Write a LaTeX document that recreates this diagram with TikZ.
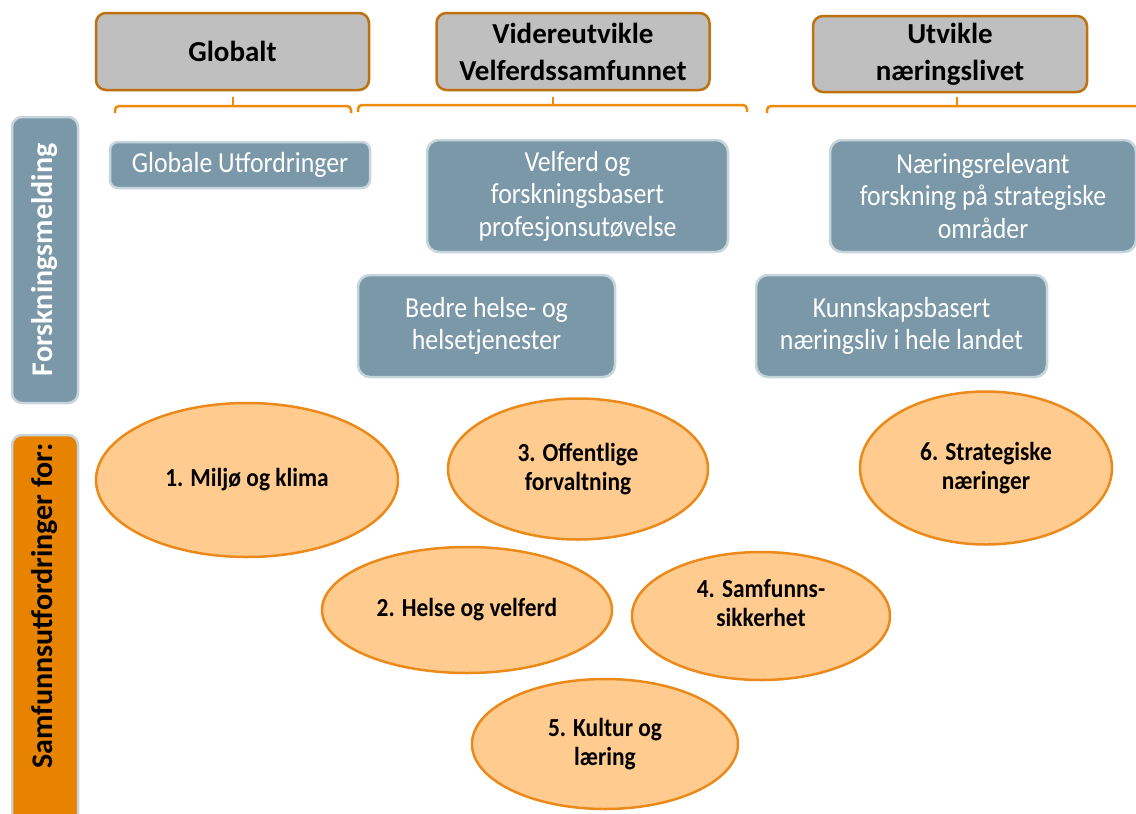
\documentclass[tikz,border=0pt]{standalone}
\usepackage{fontspec}
\setmainfont{Carlito}
\newfontfamily\bluefont[FakeStretch=0.89]{Carlito}
\newfontfamily\ellfont[FakeStretch=0.9]{Carlito}
\usetikzlibrary{shapes.geometric}
\definecolor{hdrfill}{HTML}{BFBFBF}
\definecolor{hdrline}{HTML}{C0710F}
\definecolor{brk}{HTML}{F08A0A}
\definecolor{bluefill}{HTML}{7B98A9}
\definecolor{blueline}{HTML}{C6D4DC}
\definecolor{orfill}{HTML}{E88300}
\definecolor{ellfill}{HTML}{FFCB8E}
\definecolor{ellline}{HTML}{EB8A1A}
\tikzset{
  hdr/.style={draw=hdrline, fill=hdrfill, line width=2.5pt, rounded corners=10pt, align=center,
    font=\fontsize{29}{37}\selectfont\bfseries, inner sep=0pt},
  bbox/.style={draw=blueline, fill=bluefill, line width=2.5pt, rounded corners=12pt, text=white,
    align=center, font=\bluefont\fontsize{29}{32.5}\selectfont, inner sep=0pt},
  ell/.style={ellipse, draw=ellline, fill=ellfill, line width=2.5pt, align=center,
    font=\ellfont\fontsize{26}{29}\selectfont\bfseries, inner sep=0pt},
  elltext/.style={align=center, font=\ellfont\fontsize{26}{29}\selectfont\bfseries, inner sep=0pt},
  brack/.style={draw=brk, line width=2.5pt, rounded corners=4pt},
  sidebox/.style={draw=blueline, line width=2.5pt, rounded corners=10pt, rotate=90, inner sep=0pt,
    minimum height=66pt}
}
\begin{document}
\begin{tikzpicture}[x=1pt,y=-1pt]
\useasboundingbox (0,0) rectangle (1136,814);
\clip (0,0) rectangle (1136,814);
% headers
\node[hdr, minimum width=273pt, minimum height=77pt] (hGlob) at (232.5,51.5) {Globalt};
\node[hdr, minimum width=273pt, minimum height=77pt] (hVel) at (573,51.5) {Videreutvikle\\Velferdssamfunnet};
\node[hdr, minimum width=274pt, minimum height=76pt] (hUtv) at (950,54) {Utvikle\\næringslivet};
% brackets
\coordinate (g1) at (115,113); \coordinate (g2) at (351,113); \coordinate (gt) at (233,97);
\draw[brack] (g1) -- (115,106) -- (351,106) -- (g2);
\draw[brack] (233,106) -- (gt);
\coordinate (m1) at (358,112); \coordinate (m2) at (747,112); \coordinate (mt) at (553,97);
\draw[brack] (m1) -- (358,105) -- (747,105) -- (m2);
\draw[brack] (553,105) -- (mt);
\coordinate (r1) at (767,113); \coordinate (r2) at (1145,106); \coordinate (rt) at (957,97);
\draw[brack] (r1) -- (767,106) -- (r2);
\draw[brack] (957,106) -- (rt);
% side labels
\node[sidebox, fill=bluefill, minimum width=286pt, text=white,
  font=\fontsize{30}{36}\selectfont\bfseries] (sideF) at (45,260) {Forskningsmelding};
\node[sidebox, fill=orfill, minimum width=395pt] (sideS) at (45,632.5) {};
\node[rotate=90, font=\fontsize{30}{36}\selectfont\bfseries, inner sep=0pt] (sideST) at (45,606) {Samfunnsutfordringer for:};
% blue boxes
\node[bbox, rounded corners=8pt, minimum width=260pt, minimum height=46pt] (bGlob) at (240,165) {Globale Utfordringer};
\node[bbox, minimum width=301pt, minimum height=112pt] (bVel) at (577.5,196) {Velferd og\\forskningsbasert\\profesjonsutøvelse};
\node[bbox, minimum width=306pt, minimum height=112pt] (bNaer) at (983,196) {Næringsrelevant\\forskning på strategiske\\områder};
\node[bbox, minimum width=257pt, minimum height=102pt] (bBedre) at (486.5,326) {Bedre helse- og\\helsetjenester};
\node[bbox, minimum width=291pt, minimum height=102pt] (bKunn) at (901.5,326) {Kunnskapsbasert\\næringsliv i hele landet};
% ellipses
\node[ell, minimum width=302pt, minimum height=154pt] (e1) at (247,480) {1. Miljø og klima};
\node[ell, minimum width=260pt, minimum height=141pt] (e3) at (578,469) {3. Offentlige\\forvaltning};
\node[ell, minimum width=252pt, minimum height=153pt] (e6) at (986,468) {6. Strategiske\\næringer};
\node[ell, minimum width=290pt, minimum height=126pt] (e2) at (467,610) {2. Helse og velferd};
\node[ell, minimum width=258pt, minimum height=128pt] (e4) at (761,616) {};
\node[elltext] (e4t) at (761,603) {4. Samfunns-\\sikkerhet};
\node[ell, minimum width=266pt, minimum height=130pt] (e5) at (605,744) {5. Kultur og\\læring};
\end{tikzpicture}
\end{document}
